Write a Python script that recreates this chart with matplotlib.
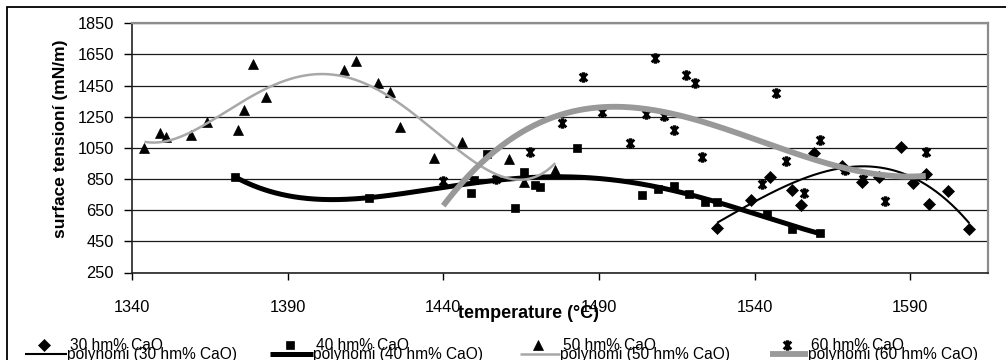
import numpy as np
import matplotlib
matplotlib.use("Agg")
import matplotlib.pyplot as plt
from matplotlib.path import Path
from matplotlib.lines import Line2D
from matplotlib.patches import Rectangle

plt.rcParams['font.family'] = ['Liberation Sans', 'DejaVu Sans']

# ---- data ----
t30 = [1528, 1539, 1545, 1552, 1555, 1559, 1568, 1574.5, 1580, 1587, 1591, 1595, 1596, 1602, 1609]
v30 = [538, 716, 866, 778, 686, 1018, 935, 828, 864, 1055, 825, 885, 693, 772, 528]

t40 = [1373, 1416, 1449, 1450, 1454, 1463, 1466, 1469.5, 1471, 1483, 1504, 1509, 1514, 1519, 1524, 1528, 1544, 1552, 1561]
v40 = [864, 731, 760, 842, 1014, 662, 898, 810, 800, 1049, 746, 788, 806, 757, 703, 703, 625, 531, 506]

t50 = [1344, 1349, 1351, 1359, 1364, 1374, 1376, 1379, 1383, 1408, 1412, 1419, 1423, 1426, 1437, 1446, 1461, 1466, 1476]
v50 = [1050, 1143, 1123, 1132, 1217, 1164, 1294, 1586, 1378, 1550, 1608, 1468, 1406, 1181, 982, 1091, 977, 830, 911]

t60 = [1440, 1457, 1468, 1478, 1485, 1491, 1500, 1505, 1508, 1511, 1514, 1518, 1521, 1523, 1542.5, 1547, 1550, 1556, 1561, 1569, 1575, 1582, 1595]
v60 = [840, 853, 1024, 1213, 1508, 1282, 1082, 1269, 1625, 1252, 1164, 1518, 1464, 990, 819, 1404, 966, 759, 1100, 905, 850, 710, 1026]

series_labels = ['30 hm% CaO', '40 hm% CaO', '50 hm% CaO', '60 hm% CaO']
poly_labels = ['polynomi (30 hm% CaO)', 'polynomi (40 hm% CaO)',
               'polynomi (50 hm% CaO)', 'polynomi (60 hm% CaO)']
poly_degrees = [3, 4, 4, 3]
x_ticks = [1340, 1390, 1440, 1490, 1540, 1590]
y_ticks = [250, 450, 650, 850, 1050, 1250, 1450, 1650, 1850]

# ---- figure ----
W, H = 1006, 360
fig = plt.figure(figsize=(W / 100, H / 100), dpi=100)
fig.patch.set_facecolor('white')

def fx(px):
    return px / W

def fy(py):
    return 1 - py / H

ax = fig.add_axes([fx(132), fy(272.5), fx(988) - fx(132), fy(23.3) - fy(272.5)])

star_path = Path(
    [(-1, -1), (1, 1), (-1, 1), (1, -1), (-0.45, 1), (0.45, 1), (-0.45, -1), (0.45, -1)],
    [Path.MOVETO, Path.LINETO, Path.MOVETO, Path.LINETO,
     Path.MOVETO, Path.LINETO, Path.MOVETO, Path.LINETO])

marker_styles = [
    dict(marker='D', ms=6.2, mfc='black', mec='black', mew=0.5),
    dict(marker='s', ms=6.0, mfc='black', mec='black', mew=0.5),
    dict(marker='^', ms=7.0, mfc='black', mec='black', mew=0.5),
    dict(marker=star_path, ms=5.5, mfc='none', mec='black', mew=2.0),
]
line_styles = [
    dict(color='black', lw=1.5),
    dict(color='black', lw=3.6),
    dict(color='#a8a8a8', lw=1.8),
    dict(color='#999999', lw=4.2),
]

ts = [t30, t40, t50, t60]
vs = [v30, v40, v50, v60]

for t, v, ms in zip(ts, vs, marker_styles):
    ax.plot(t, v, linestyle='none', zorder=3, **ms)

for t, v, deg, ls in zip(ts, vs, poly_degrees, line_styles):
    t = np.asarray(t, float)
    v = np.asarray(v, float)
    m = t.mean()
    coef = np.polyfit(t - m, v, deg)
    xx = np.linspace(t.min(), t.max(), 300)
    ax.plot(xx, np.polyval(coef, xx - m), zorder=4, solid_capstyle='butt', **ls)

ax.set_xlim(1340, 1615)
ax.set_ylim(250, 1850)
ax.set_xticks(x_ticks)
ax.set_yticks(y_ticks)
ax.set_xticklabels([str(x) for x in x_ticks], fontsize=11.8)
ax.set_yticklabels([str(y) for y in y_ticks], fontsize=11.8)
ax.tick_params(axis='x', direction='out', length=5, width=1, pad=15, color='black')
ax.tick_params(axis='y', direction='out', length=6, width=1, pad=7, color='black')
ax.grid(axis='y', color='#1a1a1a', lw=0.9, zorder=0)
ax.set_axisbelow(True)
for s in ['top', 'right']:
    ax.spines[s].set_color('#8c8c8c')
    ax.spines[s].set_linewidth(1.6)
for s in ['left', 'bottom']:
    ax.spines[s].set_color('#222222')
    ax.spines[s].set_linewidth(1.2)

# axis titles
fig.text(fx(528), fy(313), 'temperature (°C)', fontsize=13, fontweight='bold',
         ha='center', va='center')
fig.text(fx(61), fy(139), 'surface tensioní (mN/m)', fontsize=12.5, fontweight='bold',
         ha='center', va='center', rotation=90)

# outer chart frame
fig.patches.append(Rectangle((fx(7), -0.2), 1.5, fy(7) + 0.2, transform=fig.transFigure,
                             fill=False, ec='black', lw=1.3))

# legend (manual, two rows x four columns)
col_line_start = [25, 270, 520, 770]
col_text = [67, 313, 560, 808]
row1_base = 349.5
row2_base = 359
for i in range(4):
    ms = marker_styles[i]
    cx = (col_line_start[i] + col_text[i]) / 2 - 2
    fig.add_artist(Line2D([fx(cx)], [fy(row1_base - 5)], linestyle='none',
                          transform=fig.transFigure, **ms))
    fig.text(fx(col_text[i] + 3), fy(row1_base), series_labels[i], fontsize=11.2,
             ha='left', va='baseline')
    fig.add_artist(Line2D([fx(col_line_start[i]), fx(col_text[i])],
                          [fy(row2_base - 5), fy(row2_base - 5)],
                          transform=fig.transFigure, solid_capstyle='butt', **line_styles[i]))
    fig.text(fx(col_text[i]), fy(row2_base), poly_labels[i], fontsize=11.2,
             ha='left', va='baseline')

fig.savefig('out.png', dpi=100, facecolor='white')
